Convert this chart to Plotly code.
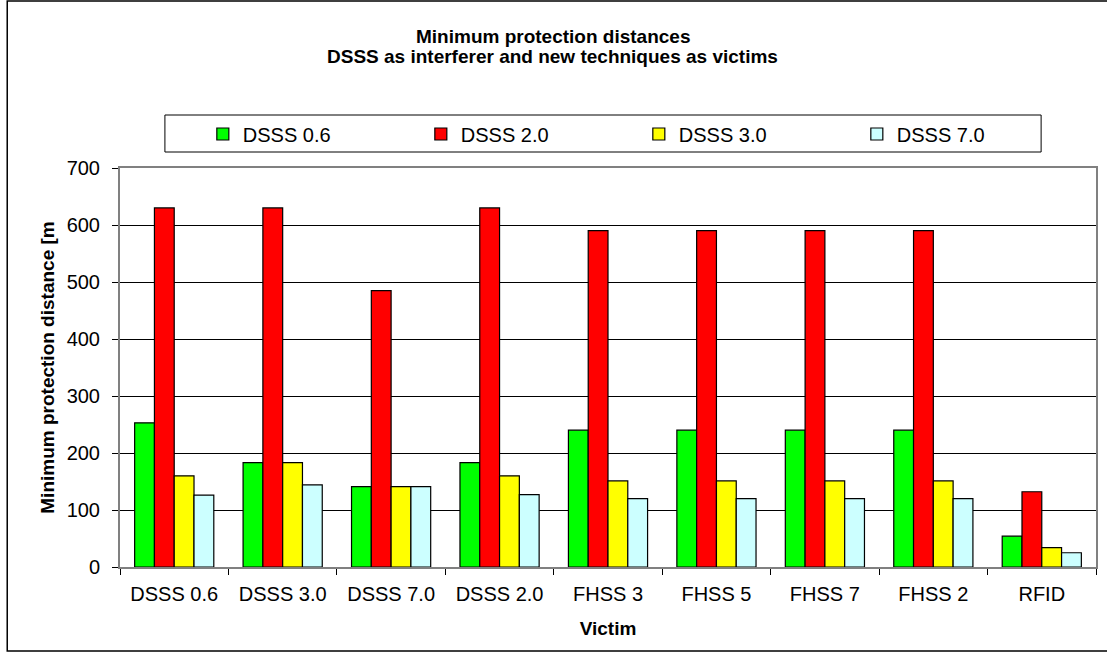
import plotly.graph_objects as go

victims = ["DSSS 0.6", "DSSS 3.0", "DSSS 7.0", "DSSS 2.0", "FHSS 3", "FHSS 5", "FHSS 7", "FHSS 2", "RFID"]
dsss_06 = [253, 183, 141, 183, 240, 240, 240, 240, 54]
dsss_20 = [630, 630, 485, 630, 590, 590, 590, 590, 132]
dsss_30 = [160, 183, 141, 160, 151, 151, 151, 151, 34]
dsss_70 = [126, 144, 141, 127, 120, 120, 120, 120, 25]

series = [
    ("DSSS 0.6", dsss_06, "#00FF00"),
    ("DSSS 2.0", dsss_20, "#FF0000"),
    ("DSSS 3.0", dsss_30, "#FFFF00"),
    ("DSSS 7.0", dsss_70, "#CCFFFF"),
]

title_lines = ["Minimum protection distances", "DSSS as interferer and new techniques as victims"]

font = "Liberation Sans, Arial, sans-serif"

fig = go.Figure()
for name, vals, col in series:
    fig.add_trace(go.Bar(
        name=name, x=victims, y=vals,
        marker=dict(color=col, line=dict(color="black", width=1.2)),
    ))

# plot area in pixels: x 120..1098, y 168..567
W, H = 1107, 662
L, R, T, B = 120, 9, 168, 95
pw, ph = W - L - R, H - T - B

def px(x):
    return (x - L) / pw

def py(y):
    return (H - B - y) / ph

# two title lines placed by hand (tighter spacing than a <br> title)
for line, ypix in zip(title_lines, [36, 57]):
    fig.add_annotation(
        text=f"<b>{line}</b>", xref="paper", yref="paper",
        x=px(W / 2), y=py(ypix), xanchor="center", yanchor="middle",
        showarrow=False, font=dict(size=19),
    )

fig.update_layout(
    width=W, height=H,
    margin=dict(l=L, r=R, t=T, b=B),
    paper_bgcolor="white", plot_bgcolor="white",
    font=dict(family=font, size=20, color="black"),
    barmode="group", bargap=0.27, bargroupgap=0,
    showlegend=True,
    legend=dict(
        orientation="h", x=px(203), xanchor="left",
        y=py(134), yanchor="middle",
        entrywidth=173, entrywidthmode="pixels",
        bgcolor="rgba(0,0,0,0)", borderwidth=0,
        font=dict(size=20),
    ),
    xaxis=dict(
        title=dict(text="<b>Victim</b>", font=dict(size=19), standoff=18),
        showline=True, linecolor="#808080", linewidth=2, mirror=True,
        ticks="outside", tickson="boundaries", ticklen=6, tickcolor="black",
        ticklabelstandoff=8,
        showgrid=False,
    ),
    yaxis=dict(
        title=dict(text="<b>Minimum protection distance [m</b>", font=dict(size=19), standoff=7),
        range=[0, 700], dtick=100,
        showline=True, linecolor="#808080", linewidth=2, mirror=True,
        ticks="outside", ticklen=6, tickcolor="black", ticklabelstandoff=8,
        showgrid=True, gridcolor="black", gridwidth=1,
        zeroline=False,
    ),
    shapes=[
        dict(type="rect", xref="paper", yref="paper",
             x0=px(165), x1=px(1043), y0=py(152), y1=py(115),
             line=dict(color="black", width=1), fillcolor="rgba(0,0,0,0)"),
        dict(type="rect", xref="paper", yref="paper",
             x0=px(7), x1=px(1160), y0=py(651), y1=py(1),
             line=dict(color="black", width=1.5), fillcolor="rgba(0,0,0,0)"),
    ],
)

fig.write_html("out.html", config={"displayModeBar": False},
               post_script="document.body.style.margin='0';")
